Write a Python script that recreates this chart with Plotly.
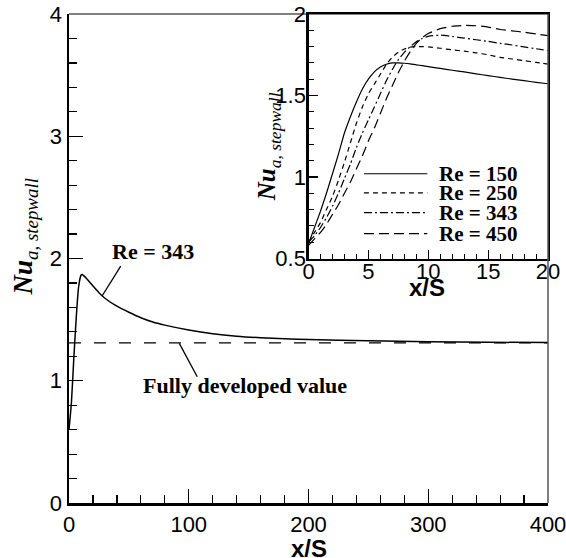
import plotly.graph_objects as go

# ---------------- data ----------------
# main plot: Re = 343, long domain
main_x = [0, 2, 4, 6, 8, 10, 11, 12, 15, 20, 25, 30, 40, 50, 60, 70, 80, 100,
          120, 140, 160, 180, 200, 250, 300, 350, 400]
main_nu = [0.6, 0.82, 1.18, 1.51, 1.765, 1.863, 1.87, 1.862, 1.832, 1.775, 1.72,
           1.675, 1.61, 1.56, 1.515, 1.48, 1.455, 1.415, 1.385, 1.365, 1.352,
           1.343, 1.337, 1.327, 1.32, 1.315, 1.312]
fd_x = [0, 400]
fd_value = 1.31

# inset: x/S from 0 to 20
inset_x = [0, 0.5, 1, 1.5, 2, 2.5, 3, 3.5, 4, 4.5, 5, 5.5, 6, 6.5, 7, 7.5, 8,
           8.5, 9, 9.5, 10, 11, 12, 13, 14, 15, 16, 17, 18, 19, 20]
nu_150 = [0.59, 0.69, 0.79, 0.90, 1.02, 1.14, 1.27, 1.37, 1.46, 1.54, 1.60,
          1.645, 1.675, 1.692, 1.70, 1.70, 1.698, 1.694, 1.688, 1.683, 1.677,
          1.666, 1.655, 1.645, 1.633, 1.622, 1.611, 1.601, 1.591, 1.581, 1.572]
nu_250 = [0.6, 0.66, 0.72, 0.80, 0.88, 0.98, 1.09, 1.21, 1.33, 1.43, 1.51,
          1.57, 1.63, 1.69, 1.735, 1.765, 1.785, 1.797, 1.80, 1.80, 1.798,
          1.79, 1.78, 1.772, 1.762, 1.75, 1.734, 1.724, 1.714, 1.703, 1.693]
nu_343 = [0.6, 0.64, 0.69, 0.75, 0.82, 0.90, 0.99, 1.08, 1.18, 1.27, 1.35,
          1.43, 1.51, 1.59, 1.66, 1.72, 1.765, 1.80, 1.83, 1.85, 1.863,
          1.87, 1.862, 1.852, 1.842, 1.832, 1.82, 1.81, 1.798, 1.787, 1.775]
nu_450 = [0.58, 0.62, 0.66, 0.71, 0.77, 0.83, 0.90, 0.97, 1.05, 1.13, 1.22,
          1.30, 1.39, 1.48, 1.56, 1.64, 1.71, 1.77, 1.82, 1.855, 1.88,
          1.91, 1.925, 1.93, 1.928, 1.92, 1.905, 1.897, 1.888, 1.878, 1.867]

legend_labels = ["Re = 150", "Re = 250", "Re = 343", "Re = 450"]
inset_series = [nu_150, nu_250, nu_343, nu_450]
inset_dashes = ["solid", "5px,4px", "8px,3px,2px,3px", "10px,5px"]

main_y_ticks = [0, 1, 2, 3, 4]
main_x_ticks = [0, 100, 200, 300, 400]

# ---------------- figure ----------------
SANS = "Liberation Sans, Arial, sans-serif"
SERIF = "Liberation Serif, Times New Roman, serif"

fig = go.Figure()

fig.add_trace(go.Scatter(x=main_x, y=main_nu, mode="lines",
                         line=dict(color="black", width=1.5, shape="spline", smoothing=0.6),
                         xaxis="x", yaxis="y", showlegend=False, hoverinfo="skip"))
fig.add_trace(go.Scatter(x=fd_x, y=[fd_value] * len(fd_x), mode="lines",
                         line=dict(color="black", width=1.3, dash="12px,13px"),
                         xaxis="x", yaxis="y", showlegend=False, hoverinfo="skip"))

for ys, dsh, name in zip(inset_series, inset_dashes, legend_labels):
    fig.add_trace(go.Scatter(x=inset_x, y=ys, mode="lines", name=name,
                             line=dict(color="black", width=1.2, dash=dsh,
                                       shape="spline", smoothing=0.5),
                             xaxis="x2", yaxis="y2", showlegend=False, hoverinfo="skip"))

axis_common = dict(showline=True, linecolor="black", ticks="inside",
                   tickcolor="black", showgrid=False, zeroline=False,
                   automargin=False, ticklabeloverflow="allow",
                   tickfont=dict(family=SANS, size=22, color="black"))

fig.update_layout(
    template="none",
    width=566, height=558,
    margin=dict(l=69, r=18, t=14, b=55, pad=0),
    paper_bgcolor="white", plot_bgcolor="white",
    showlegend=False,
    xaxis=dict(domain=[0, 1], range=[0, 400], tickvals=main_x_ticks,
               ticklen=14, tickwidth=1.3, linewidth=2.5,
               minor=dict(dtick=20, ticklen=8, tickwidth=1.2, ticks="inside", tickcolor="black"),
               anchor="y", **axis_common),
    yaxis=dict(domain=[0, 1], range=[0, 4], tickvals=main_y_ticks,
               ticklen=14, tickwidth=1.3, linewidth=2.5,
               minor=dict(dtick=0.2, ticklen=8, tickwidth=1.2, ticks="inside", tickcolor="black"),
               anchor="x", **axis_common),
    xaxis2=dict(domain=[0.5, 1], range=[0, 20], dtick=5, tick0=0,
                ticklen=9, tickwidth=1.2, linewidth=2.2, mirror=True,
                ticklabelstandoff=-8,
                minor=dict(dtick=1, ticklen=5, tickwidth=1, ticks="inside", tickcolor="black"),
                anchor="y2", **axis_common),
    yaxis2=dict(domain=[0.5, 1], range=[0.5, 2], dtick=0.5, tick0=0.5,
                ticklen=9, tickwidth=1.2, linewidth=2.2, mirror=True,
                ticklabelstandoff=-4,
                minor=dict(dtick=0.1, ticklen=5, tickwidth=1, ticks="inside", tickcolor="black"),
                anchor="x2", **axis_common),
)

# main frame (thin top, grey right)
fig.add_shape(type="line", xref="paper", yref="paper", x0=0, x1=1, y0=1, y1=1,
              line=dict(color="black", width=1))
fig.add_shape(type="line", xref="paper", yref="paper", x0=1, x1=1, y0=0, y1=1,
              line=dict(color="#555555", width=1.5))

# manual legend inside the inset
leg_y = [1.02, 0.903, 0.781, 0.652]
for lab, dsh, yy in zip(legend_labels, inset_dashes, leg_y):
    fig.add_shape(type="line", xref="x2", yref="y2", x0=4.63, x1=9.92, y0=yy, y1=yy,
                  line=dict(color="black", width=1.2, dash=dsh))
    fig.add_annotation(x=10.75, y=yy, xref="x2", yref="y2", text="<b>%s</b>" % lab,
                       showarrow=False, xanchor="left", yanchor="middle",
                       font=dict(family=SERIF, size=21, color="black"))

# annotations in main plot
fig.add_shape(type="line", xref="x", yref="y", x0=43.2, y0=1.938, x1=27.6, y1=1.693,
              line=dict(color="black", width=1.3))
fig.add_annotation(x=70.1, y=2.06, xref="x", yref="y", text="<b>Re = 343</b>",
                   showarrow=False, font=dict(family=SERIF, size=22, color="black"))
fig.add_shape(type="line", xref="x", yref="y", x0=92.1, y0=1.306, x1=107.1, y1=1.033,
              line=dict(color="black", width=1.3))
fig.add_annotation(x=147, y=0.965, xref="x", yref="y", text="<b>Fully developed value</b>",
                   showarrow=False, font=dict(family=SERIF, size=22, color="black"))

# axis titles
ytitle = "<b><i>Nu</i></b><sub><i>a, stepwall</i></sub>"
fig.add_annotation(x=-0.0898, y=0.545, xref="paper", yref="paper", text=ytitle,
                   textangle=-90, showarrow=False, xanchor="center", yanchor="middle",
                   font=dict(family=SERIF, size=27, color="black"))
fig.add_annotation(x=0.416, y=0.728, xref="paper", yref="paper", text=ytitle,
                   textangle=-90, showarrow=False, xanchor="center", yanchor="middle",
                   font=dict(family=SERIF, size=25, color="black"))
fig.add_annotation(x=0.501, y=-0.094, xref="paper", yref="paper", text="<b>x/S</b>",
                   showarrow=False, xanchor="center", yanchor="middle",
                   font=dict(family=SANS, size=24, color="black"))
fig.add_annotation(x=0.747, y=0.44, xref="paper", yref="paper", text="<b>x/S</b>",
                   showarrow=False, xanchor="center", yanchor="middle",
                   font=dict(family=SANS, size=24, color="black"))

fig.write_html(
    "out.html",
    config={"displayModeBar": False, "staticPlot": True},
    post_script="document.body.style.margin='0px';"
                "document.documentElement.style.overflow='hidden';",
)
